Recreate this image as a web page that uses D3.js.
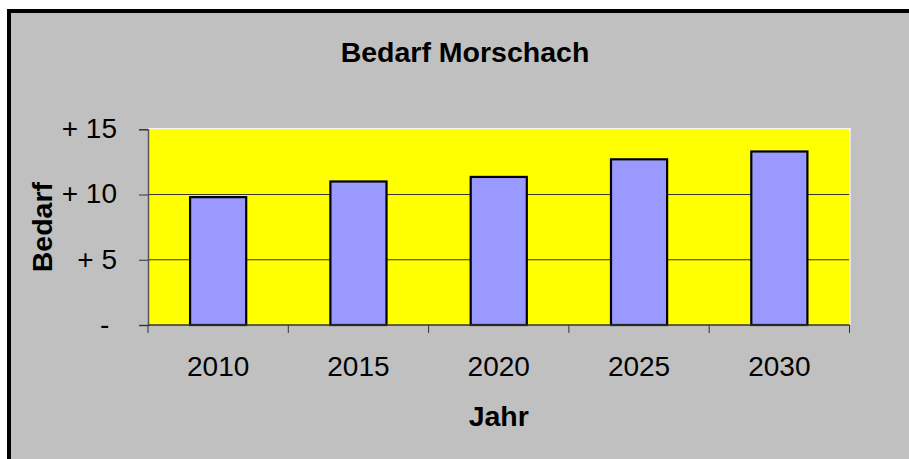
<!DOCTYPE html>
<html>
<head>
<meta charset="utf-8">
<script src="https://cdn.jsdelivr.net/npm/d3@7"></script>
<style>
  body { margin: 0; background: #fff; }
  svg { display: block; font-family: Arial, 'Liberation Sans', sans-serif; }
</style>
</head>
<body>
<script>
// data
const years = ['2010', '2015', '2020', '2025', '2030']
const bedarf = [9.8, 11.0, 11.35, 12.7, 13.3]
const yTicks = [0, 5, 10, 15]
const yTickLabels = ['-\u00A0', '+ 5', '+ 10', '+ 15']

const width = 909
const height = 459

const svg = d3.select('body')
  .append('svg')
  .attr('width', width)
  .attr('height', height)

// chart area: grey with thick black frame, cropped on right/bottom
svg.append('rect')
  .attr('x', 9)
  .attr('y', 11)
  .attr('width', 930)
  .attr('height', 480)
  .attr('fill', '#c0c0c0')
  .attr('stroke', '#000')
  .attr('stroke-width', 4)

const plot = { left: 148, right: 849.5, top: 129.3, bottom: 325 }

const x = d3.scaleBand()
  .domain(years)
  .range([plot.left, plot.right])
  .paddingInner(0.6)
  .paddingOuter(0.3)

const y = d3.scaleLinear()
  .domain([0, 15])
  .range([plot.bottom, plot.top])

// plot area
svg.append('rect')
  .attr('x', plot.left)
  .attr('y', plot.top)
  .attr('width', plot.right - plot.left)
  .attr('height', plot.bottom - plot.top)
  .attr('fill', '#ffff00')

// gridlines
svg.append('g')
  .selectAll('line')
  .data([5, 10])
  .join('line')
  .attr('x1', plot.left)
  .attr('x2', plot.right)
  .attr('y1', d => y(d))
  .attr('y2', d => y(d))
  .attr('stroke', '#333')
  .attr('stroke-width', 1)

// light border top/right of plot area
svg.append('path')
  .attr('d', `M${plot.left},${plot.top - 0.5}H${plot.right + 0.5}V${plot.bottom}`)
  .attr('fill', 'none')
  .attr('stroke', '#f4f4f4')
  .attr('stroke-width', 1.5)

// bars
svg.append('g')
  .selectAll('rect')
  .data(bedarf)
  .join('rect')
  .attr('x', (d, i) => x(years[i]))
  .attr('y', d => y(d))
  .attr('width', x.bandwidth())
  .attr('height', d => y(0) - y(d))
  .attr('fill', '#9999ff')
  .attr('stroke', '#000')
  .attr('stroke-width', 2.2)

// y axis
const yAxis = svg.append('g')
  .attr('transform', `translate(${plot.left},0)`)
  .call(d3.axisLeft(y)
    .tickValues(yTicks)
    .tickSize(9)
    .tickPadding(22)
    .tickFormat((d, i) => yTickLabels[i]))
yAxis.select('.domain').attr('stroke', '#555').attr('stroke-width', 1.5)
yAxis.selectAll('.tick line').attr('stroke', '#333')
yAxis.selectAll('text')
  .attr('fill', '#000')
  .attr('font-size', 28)
  .attr('dy', '0.3em')
  .attr('font-family', 'Arial, Liberation Sans, sans-serif')

// x axis: ticks between categories
const xEdges = d3.range(years.length + 1).map(i => plot.left + i * x.step())
svg.append('line')
  .attr('x1', plot.left)
  .attr('x2', plot.right)
  .attr('y1', plot.bottom)
  .attr('y2', plot.bottom)
  .attr('stroke', '#333')
  .attr('stroke-width', 1.5)
svg.append('g')
  .selectAll('line')
  .data(xEdges)
  .join('line')
  .attr('x1', d => d)
  .attr('x2', d => d)
  .attr('y1', plot.bottom)
  .attr('y2', plot.bottom + 8)
  .attr('stroke', '#333')
svg.append('g')
  .selectAll('text')
  .data(years)
  .join('text')
  .attr('x', d => x(d) + x.bandwidth() / 2)
  .attr('y', 376)
  .attr('text-anchor', 'middle')
  .attr('font-size', 28)
  .text(d => d)

// titles
svg.append('text')
  .attr('x', 465)
  .attr('y', 62)
  .attr('text-anchor', 'middle')
  .attr('font-size', 28.5)
  .attr('font-weight', 'bold')
  .text('Bedarf Morschach')

svg.append('text')
  .attr('x', (plot.left + plot.right) / 2)
  .attr('y', 426)
  .attr('text-anchor', 'middle')
  .attr('font-size', 28.5)
  .attr('font-weight', 'bold')
  .text('Jahr')

svg.append('text')
  .attr('transform', `translate(51.5,${(plot.top + plot.bottom) / 2}) rotate(-90)`)
  .attr('text-anchor', 'middle')
  .attr('font-size', 28.5)
  .attr('font-weight', 'bold')
  .text('Bedarf')
</script>
</body>
</html>
